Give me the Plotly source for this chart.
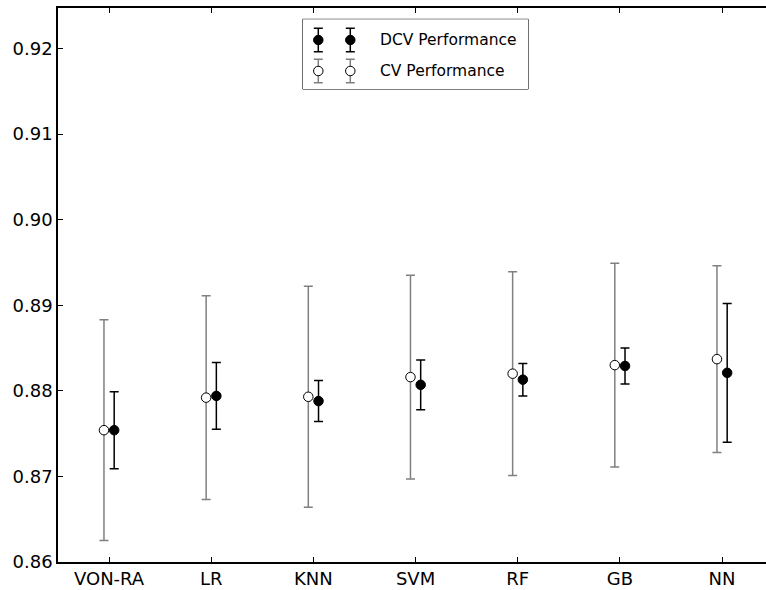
import plotly.graph_objects as go

# Mean accuracy and standard deviation per model
models = ["VON-RA", "LR", "KNN", "SVM", "RF", "GB", "NN"]
cv_mean = [0.8754, 0.8792, 0.8793, 0.8816, 0.8820, 0.8830, 0.8837]
cv_err = [0.0129, 0.0119, 0.0129, 0.0119, 0.0119, 0.0119, 0.0109]
dcv_mean = [0.8754, 0.8794, 0.8788, 0.8807, 0.8813, 0.8829, 0.8821]
dcv_err = [0.0045, 0.0039, 0.0024, 0.0029, 0.0019, 0.0021, 0.0081]
y_ticks = [0.86, 0.87, 0.88, 0.89, 0.90, 0.91, 0.92]
legend_labels = ["DCV Performance", "CV Performance"]

FONT = "DejaVu Sans"
GRAY = "#808080"
SHIFT = 0.05  # horizontal dodge between the two series

xs = list(range(len(models)))
fig = go.Figure()

fig.add_trace(go.Scatter(
    x=[i - SHIFT for i in xs], y=cv_mean, mode="markers",
    error_y=dict(type="data", array=cv_err, color=GRAY, thickness=1.5, width=4.5),
    marker=dict(size=9.5, color="white", line=dict(color="black", width=1)),
    showlegend=False, hoverinfo="skip",
))
fig.add_trace(go.Scatter(
    x=[i + SHIFT for i in xs], y=dcv_mean, mode="markers",
    error_y=dict(type="data", array=dcv_err, color="black", thickness=1.5, width=4.5),
    marker=dict(size=9.5, color="black", line=dict(color="black", width=1)),
    showlegend=False, hoverinfo="skip",
))

# Legend box drawn on its own pixel-scaled axes (two keys per entry)
LW, LH = 225.6, 69.7
key_x = [15.6, 47.6]
row_y = [20.7, 51.7]
key_style = [("black", "black"), ("white", GRAY)]
for (fill, ecol), ry in zip(key_style, row_y):
    fig.add_trace(go.Scatter(
        x=key_x, y=[ry, ry], mode="markers", xaxis="x2", yaxis="y2",
        error_y=dict(type="constant", value=11.7, color=ecol, thickness=1.5, width=4.5),
        marker=dict(size=9.5, color=fill, line=dict(color="black", width=1)),
        showlegend=False, hoverinfo="skip",
    ))
for label, ry in zip(legend_labels, row_y):
    fig.add_annotation(x=75.3, y=ry, xref="x2", yref="y2", text=label,
                       showarrow=False, xanchor="left", yanchor="middle",
                       font=dict(family=FONT, size=15.5, color="black"))
fig.add_shape(type="rect", xref="x2 domain", yref="y2 domain", x0=0, x1=1, y0=0, y1=1,
              fillcolor="#e5e5e5", line=dict(color="black", width=1), layer="below")

W, H = 766, 590
L, R, T, B = 58, 0, 8, 28
pw, ph = W - L - R, H - T - B
box_left, box_top = 302.7, 19.3
dx0 = (box_left - L) / pw
dx1 = (box_left + LW - L) / pw
dy1 = (H - B - box_top) / ph
dy0 = (H - B - box_top - LH) / ph

fig.update_layout(
    width=W, height=H, autosize=False,
    margin=dict(l=L, r=R, t=T, b=B, pad=0),
    paper_bgcolor="white", plot_bgcolor="white",
    font=dict(family=FONT, size=18, color="black"),
    xaxis=dict(
        range=[-0.5, 6.43], tickvals=xs, ticktext=models,
        showline=True, linecolor="black", linewidth=1.5, mirror="ticks",
        ticks="inside", ticklen=5, tickwidth=1, tickcolor="black",
        showgrid=False, zeroline=False, fixedrange=True,
        tickfont=dict(family=FONT, size=18, color="black"),
    ),
    yaxis=dict(
        range=[0.86, 0.92472], tickvals=y_ticks, tickformat=".2f",
        showline=True, linecolor="black", linewidth=1.5,
        ticks="inside", ticklen=5, tickwidth=1, tickcolor="black",
        showgrid=False, zeroline=False, fixedrange=True,
        tickfont=dict(family=FONT, size=18, color="black"),
    ),
    xaxis2=dict(domain=[dx0, dx1], range=[0, LW], visible=False, anchor="y2", fixedrange=True),
    yaxis2=dict(domain=[dy0, dy1], range=[LH, 0], visible=False, anchor="x2", fixedrange=True),
)

fig.write_html("out.html", config={"displayModeBar": False})
